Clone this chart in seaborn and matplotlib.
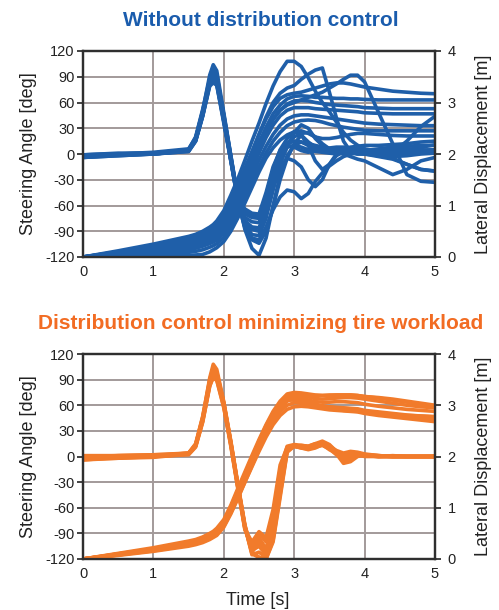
import numpy as np
import pandas as pd
import matplotlib
matplotlib.use("Agg")
import matplotlib.pyplot as plt
import seaborn as sns

sns.set_theme(style="white")
plt.rcParams["font.family"] = ["Liberation Sans", "DejaVu Sans"]

# Sample times [s]
time_s = [0.0, 0.5, 1.0, 1.5,
          1.6, 1.7, 1.8, 1.85, 1.9,
          2.0, 2.1, 2.2, 2.3, 2.4, 2.5, 2.6, 2.7, 2.8, 2.9,
          3.0, 3.1, 3.2, 3.3, 3.4, 3.5, 3.6, 3.7, 3.8, 3.9,
          4.0, 4.2, 4.4, 4.6, 4.8, 5.0]

# ---- Without distribution control ----
# steering angle [deg], one row per test run
steer_without = [
    [-4, -2, 0, 4, 18, 50, 92, 104, 97, 48, -2, -52, -88, -110, -118, -98, -60, -25, -2, 10, 14, 10, 5, 3, 2, 1, 2, 3, 3, 2, 1, 0, 1, 2, 3],
    [-2, -1, 1, 5, 16, 46, 85, 98, 93, 44, -4, -54, -85, -100, -104, -90, -62, -30, -5, 12, 22, 10, -8, -18, -12, -2, 3, 5, 4, 3, 2, 2, 3, 4, 5],
    [-1, 0, 0, 3, 15, 44, 82, 95, 90, 42, -6, -56, -86, -98, -100, -85, -65, -50, -42, -44, -52, -46, -32, -22, -14, -8, -3, 0, 2, 4, 6, 8, 9, 10, 10],
    [-3, 0, 1, 5, 20, 52, 88, 96, 90, 45, -3, -52, -82, -94, -95, -75, -42, -12, 8, 25, 34, 30, 18, 10, 6, 5, 6, 8, 9, 10, 10, 11, 12, 14, 15],
    [-4, -2, 0, 4, 17, 47, 84, 92, 87, 40, -8, -55, -80, -88, -90, -70, -40, -15, -5, -8, -15, -30, -38, -30, -12, 0, 4, 5, 5, 5, 4, 3, 3, 4, 5],
    [-1, 0, 2, 6, 19, 50, 85, 90, 86, 46, -2, -50, -78, -85, -86, -65, -35, -5, 12, 20, 24, 25, 20, 12, 6, 2, 0, -3, -6, -8, -16, -24, -18, -8, -4],
    [-2, -1, 0, 4, 16, 46, 82, 88, 84, 40, -6, -52, -74, -79, -80, -58, -28, -3, 8, 10, 8, 5, 3, 2, 1, 0, 1, 1, 0, 0, 0, 2, 15, 32, 44],
    [-3, 0, 1, 5, 18, 48, 83, 87, 82, 38, -8, -54, -70, -74, -75, -52, -22, 2, 10, 8, 4, 2, 4, 6, 7, 8, 8, 7, 6, 4, 2, -5, -12, -18, -20],
    [-1, 1, 1, 4, 16, 45, 80, 85, 81, 38, -6, -50, -66, -71, -72, -48, -18, 5, 18, 26, 22, 14, 8, 5, 4, 5, 6, 6, 5, 4, 4, 5, 6, 5, 4],
    [-4, -1, 0, 3, 15, 44, 79, 83, 80, 36, -8, -52, -64, -69, -70, -45, -15, 4, 12, 15, 14, 12, 10, 8, 6, 5, 4, 3, 2, 0, -2, -3, -2, 0, 1],
]
# lateral displacement [m], one row per test run
lat_without = [
    [0, 0.12, 0.25, 0.40, 0.44, 0.50, 0.58, 0.63, 0.70, 0.90, 1.20, 1.52, 1.88, 2.25, 2.60, 2.98, 3.32, 3.60, 3.80, 3.80, 3.70, 3.48, 3.22, 3.00, 2.82, 2.62, 2.42, 2.27, 2.17, 2.10, 2.05, 2.05, 2.08, 2.13, 2.18],
    [0, 0.10, 0.20, 0.33, 0.37, 0.42, 0.50, 0.55, 0.60, 0.78, 1.05, 1.35, 1.68, 2.02, 2.38, 2.72, 3.00, 3.18, 3.28, 3.33, 3.45, 3.55, 3.63, 3.67, 3.20, 2.70, 2.25, 2.05, 2.00, 2.00, 1.95, 1.90, 1.80, 1.70, 1.67],
    [0, 0.09, 0.18, 0.30, 0.34, 0.39, 0.46, 0.50, 0.55, 0.72, 0.98, 1.28, 1.58, 1.88, 2.18, 2.45, 2.68, 2.85, 2.95, 3.00, 3.05, 3.10, 3.15, 3.20, 3.28, 3.36, 3.45, 3.53, 3.53, 3.40, 2.80, 2.20, 1.60, 1.47, 1.45],
    [0, 0.10, 0.21, 0.35, 0.39, 0.45, 0.53, 0.58, 0.63, 0.82, 1.10, 1.40, 1.72, 2.05, 2.38, 2.68, 2.92, 3.08, 3.15, 3.18, 3.20, 3.24, 3.28, 3.32, 3.36, 3.38, 3.38, 3.36, 3.33, 3.30, 3.26, 3.22, 3.20, 3.18, 3.17],
    [0, 0.08, 0.16, 0.27, 0.30, 0.35, 0.42, 0.46, 0.50, 0.68, 0.95, 1.25, 1.57, 1.90, 2.22, 2.52, 2.78, 2.95, 3.07, 3.12, 3.13, 3.12, 3.10, 3.10, 3.09, 3.08, 3.08, 3.07, 3.07, 3.06, 3.05, 3.05, 3.05, 3.05, 3.05],
    [0, 0.06, 0.13, 0.22, 0.25, 0.30, 0.36, 0.40, 0.44, 0.60, 0.85, 1.15, 1.47, 1.80, 2.12, 2.42, 2.67, 2.85, 2.97, 3.03, 3.04, 3.03, 3.00, 2.98, 2.96, 2.95, 2.94, 2.93, 2.92, 2.90, 2.89, 2.88, 2.88, 2.88, 2.88],
    [0, 0.05, 0.10, 0.18, 0.21, 0.25, 0.30, 0.34, 0.38, 0.52, 0.76, 1.05, 1.37, 1.70, 2.02, 2.32, 2.56, 2.74, 2.85, 2.90, 2.90, 2.90, 2.88, 2.87, 2.86, 2.85, 2.84, 2.83, 2.82, 2.80, 2.79, 2.78, 2.78, 2.78, 2.78],
    [0, 0.04, 0.08, 0.14, 0.17, 0.21, 0.26, 0.29, 0.33, 0.46, 0.68, 0.96, 1.27, 1.58, 1.88, 2.15, 2.38, 2.56, 2.68, 2.74, 2.76, 2.76, 2.74, 2.72, 2.70, 2.68, 2.66, 2.64, 2.62, 2.60, 2.58, 2.57, 2.56, 2.55, 2.55],
    [0, 0.02, 0.05, 0.09, 0.11, 0.14, 0.19, 0.22, 0.26, 0.38, 0.58, 0.85, 1.15, 1.45, 1.75, 2.02, 2.25, 2.42, 2.55, 2.62, 2.65, 2.66, 2.65, 2.62, 2.58, 2.55, 2.52, 2.50, 2.48, 2.46, 2.45, 2.45, 2.45, 2.45, 2.45],
    [0, 0.01, 0.02, 0.03, 0.04, 0.05, 0.10, 0.14, 0.18, 0.30, 0.50, 0.76, 1.05, 1.35, 1.65, 1.92, 2.12, 2.27, 2.37, 2.43, 2.45, 2.40, 2.33, 2.30, 2.30, 2.32, 2.35, 2.38, 2.40, 2.40, 2.38, 2.36, 2.35, 2.35, 2.35],
]

# ---- Distribution control minimizing tire workload ----
steer_with = [
    [-3, -1, 0, 3, 14, 46, 92, 108, 102, 64, 18, -32, -80, -112, -118, -120, -98, -45, 6, 13, 12, 10, 12, 16, 12, 6, 2, 4, 3, 1, 0, 0, 0, 0, 0],
    [-1, 1, 2, 4, 13, 44, 88, 100, 96, 62, 16, -34, -82, -115, -112, -118, -92, -35, 8, 12, 11, 9, 12, 15, 11, 4, 0, 3, 2, 1, 0, 0, 0, 0, 0],
    [-4, -1, 0, 3, 12, 42, 84, 96, 92, 60, 14, -36, -84, -108, -95, -108, -80, -25, 10, 13, 12, 11, 14, 17, 13, 5, -2, 2, 4, 1, 0, 1, 0, 0, 0],
    [-3, -2, 0, 2, 11, 40, 82, 94, 90, 58, 12, -38, -86, -105, -90, -100, -70, -15, 12, 14, 13, 12, 15, 18, 14, 6, -5, -3, 2, 0, 0, 0, 0, 0, 0],
    [1, 1, 2, 3, 13, 43, 86, 98, 94, 61, 15, -35, -83, -112, -100, -112, -85, -30, 9, 12, 10, 8, 10, 14, 10, 3, -8, -6, 0, 2, 1, 0, 0, 0, 0],
    [-2, -1, 0, 4, 15, 47, 90, 104, 99, 63, 17, -33, -81, -110, -105, -115, -95, -40, 7, 12, 13, 12, 15, 14, 8, 4, 3, 5, 4, 2, 0, 0, 0, 0, 0],
    [-4, -2, -1, 3, 12, 41, 83, 92, 89, 57, 13, -37, -85, -100, -88, -95, -62, -10, 11, 12, 10, 9, 11, 13, 9, 2, -3, 1, 3, 2, 1, 0, 0, 0, 0],
    [0, 1, 1, 4, 14, 45, 87, 102, 97, 62, 16, -34, -82, -114, -118, -120, -100, -48, 5, 12, 11, 10, 12, 15, 12, 7, 4, 6, 5, 3, 1, 0, 0, 0, 0],
]
lat_with = [
    [0, 0.11, 0.22, 0.35, 0.38, 0.43, 0.50, 0.54, 0.60, 0.77, 1.05, 1.38, 1.70, 2.02, 2.33, 2.62, 2.88, 3.08, 3.22, 3.25, 3.24, 3.22, 3.20, 3.19, 3.19, 3.20, 3.20, 3.20, 3.19, 3.17, 3.15, 3.12, 3.08, 3.04, 3.00],
    [0, 0.10, 0.20, 0.33, 0.36, 0.41, 0.48, 0.52, 0.57, 0.74, 1.02, 1.34, 1.66, 1.98, 2.30, 2.60, 2.85, 3.05, 3.18, 3.22, 3.20, 3.16, 3.13, 3.12, 3.13, 3.14, 3.15, 3.15, 3.14, 3.12, 3.08, 3.04, 3.00, 2.97, 2.95],
    [0, 0.10, 0.19, 0.31, 0.34, 0.39, 0.46, 0.50, 0.55, 0.72, 0.99, 1.31, 1.63, 1.95, 2.27, 2.56, 2.82, 3.02, 3.15, 3.18, 3.15, 3.10, 3.07, 3.06, 3.06, 3.07, 3.07, 3.06, 3.05, 3.02, 2.98, 2.95, 2.92, 2.90, 2.88],
    [0, 0.09, 0.18, 0.30, 0.33, 0.38, 0.44, 0.48, 0.53, 0.69, 0.96, 1.28, 1.60, 1.92, 2.24, 2.53, 2.78, 2.97, 3.10, 3.13, 3.10, 3.06, 3.02, 2.99, 2.97, 2.96, 2.95, 2.94, 2.93, 2.90, 2.87, 2.84, 2.81, 2.79, 2.77],
    [0, 0.08, 0.17, 0.28, 0.31, 0.36, 0.42, 0.46, 0.51, 0.67, 0.93, 1.24, 1.55, 1.86, 2.17, 2.46, 2.70, 2.88, 3.00, 3.05, 3.04, 3.02, 3.00, 2.98, 2.96, 2.95, 2.94, 2.93, 2.92, 2.88, 2.84, 2.80, 2.77, 2.74, 2.72],
    [0, 0.08, 0.16, 0.27, 0.30, 0.34, 0.40, 0.44, 0.48, 0.64, 0.90, 1.20, 1.50, 1.80, 2.10, 2.38, 2.62, 2.80, 2.92, 2.97, 2.98, 2.97, 2.95, 2.93, 2.91, 2.90, 2.89, 2.88, 2.87, 2.84, 2.80, 2.77, 2.74, 2.71, 2.68],
    [0, 0.07, 0.15, 0.25, 0.28, 0.32, 0.38, 0.42, 0.46, 0.62, 0.88, 1.18, 1.50, 1.82, 2.14, 2.45, 2.72, 2.93, 3.08, 3.15, 3.18, 3.19, 3.19, 3.19, 3.20, 3.20, 3.20, 3.20, 3.19, 3.17, 3.14, 3.10, 3.06, 3.02, 2.98],
    [0, 0.09, 0.19, 0.32, 0.35, 0.40, 0.47, 0.51, 0.56, 0.73, 1.00, 1.32, 1.64, 1.96, 2.28, 2.57, 2.82, 3.00, 3.10, 3.10, 3.06, 3.02, 2.98, 2.95, 2.93, 2.92, 2.90, 2.89, 2.88, 2.86, 2.84, 2.82, 2.80, 2.79, 2.78],
]

steer_ticks = [-120, -90, -60, -30, 0, 30, 60, 90, 120]
lat_ticks = [0, 1, 2, 3, 4]
time_ticks = [0, 1, 2, 3, 4, 5]

BLUE = "#1f5fa9"
ORANGE = "#f17b2b"
TITLE_BLUE = "#1a5cad"
TITLE_ORANGE = "#f26c23"
GRID = "#a29a9a"
SPINE = "#2f2f2f"
LINE_W = 2.6


def long_table(runs, name):
    rows = []
    for k, run in enumerate(runs):
        for t, v in zip(time_s, run):
            rows.append({"t": t, name: v, "run": k})
    return pd.DataFrame(rows)


def panel(ax, steer, lat, color, show_xlabel):
    ax2 = ax.twinx()
    ax.set_xlim(0, 5)
    ax.set_ylim(-120, 120)
    ax2.set_ylim(0, 4)
    ax.set_axisbelow(True)
    ax.grid(True, color=GRID, lw=1.4)

    sns.lineplot(data=long_table(steer, "angle"), x="t", y="angle", units="run",
                 estimator=None, sort=False, color=color, lw=LINE_W, ax=ax, legend=False)
    sns.lineplot(data=long_table(lat, "disp"), x="t", y="disp", units="run",
                 estimator=None, sort=False, color=color, lw=LINE_W, ax=ax2, legend=False)

    ax.set_xticks(time_ticks)
    ax.set_xticklabels([str(v) for v in time_ticks])
    ax.set_yticks(steer_ticks)
    ax.set_yticklabels([str(v) for v in steer_ticks])
    ax2.set_yticks(lat_ticks)
    ax2.set_yticklabels([str(v) for v in lat_ticks])

    ax.tick_params(axis="x", length=0, pad=6, labelsize=10.5, colors="#222222")
    ax.tick_params(axis="y", length=4, width=1.2, pad=2, labelsize=10.5,
                   colors="#222222", direction="out")
    ax2.tick_params(axis="y", length=4, width=1.2, pad=5, labelsize=10.5,
                    colors="#222222", direction="out")

    for a in (ax, ax2):
        for sp in a.spines.values():
            sp.set_color(SPINE)
            sp.set_linewidth(1.6)
            sp.set_visible(True)

    ax.set_ylabel("Steering Angle [deg]", fontsize=13, color="#222222")
    ax.yaxis.set_label_coords(-0.13, 0.5)
    ax2.set_ylabel("Lateral Displacement [m]", fontsize=13, color="#222222")
    ax2.yaxis.set_label_coords(1.115, 0.5)
    if show_xlabel:
        ax.set_xlabel("Time [s]", fontsize=13, color="#222222")
        ax.xaxis.set_label_coords(0.495, -0.16)
    else:
        ax.set_xlabel("")
    return ax2


fig = plt.figure(figsize=(4.99, 6.10), dpi=100)
fig.patch.set_facecolor("white")
ax_top = fig.add_axes([83 / 499, 1 - 257 / 610, 352 / 499, 206 / 610])
ax_bot = fig.add_axes([83 / 499, 1 - 559 / 610, 352 / 499, 205 / 610])

panel(ax_top, steer_without, lat_without, BLUE, False)
panel(ax_bot, steer_with, lat_with, ORANGE, True)

fig.text(261 / 499, 1 - 21 / 610, "Without distribution control", ha="center", va="center",
         fontsize=15, fontweight="bold", color=TITLE_BLUE)
fig.text(261 / 499, 1 - 324 / 610, "Distribution control minimizing tire workload",
         ha="center", va="center", fontsize=15, fontweight="bold", color=TITLE_ORANGE)

fig.savefig("out.png", dpi=100, facecolor="white")
